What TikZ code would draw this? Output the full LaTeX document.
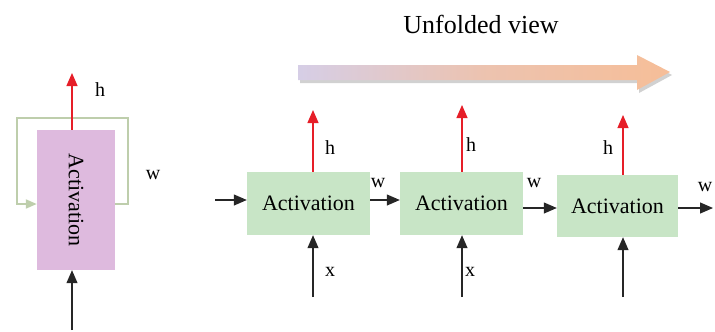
\documentclass[tikz,border=0pt]{standalone}
\usepackage{fontspec}
\setmainfont{Liberation Serif}
\usetikzlibrary{arrows.meta}
\definecolor{pinkfill}{RGB}{222,186,222}
\definecolor{greenfill}{RGB}{200,229,198}
\definecolor{loopcol}{RGB}{190,206,172}
\definecolor{lav}{RGB}{214,206,230}
\definecolor{peach}{RGB}{246,190,152}
\definecolor{arrred}{RGB}{230,30,40}
\tikzset{
  actbox/.style={fill=greenfill, draw=none, minimum width=123pt, minimum height=63pt, inner sep=0pt, font=\fontsize{22}{24}\selectfont},
  pinkbox/.style={fill=pinkfill, draw=none, minimum width=78pt, minimum height=140pt, inner sep=0pt},
  blk/.style={draw=black!85, line width=1.2pt, -{Triangle[length=13pt,width=11pt]}},
  redarr/.style={draw=arrred, line width=1.2pt, -{Triangle[length=13pt,width=11pt]}},
  loopline/.style={draw=loopcol, line width=2pt, -{Triangle[length=11pt,width=9pt]}},
  lab/.style={font=\fontsize{20}{24}\selectfont, inner sep=0pt},
}
\begin{document}
\begin{tikzpicture}[x=1pt,y=-1pt]
\useasboundingbox (0,0) rectangle (715,332);
% title
\node[font=\fontsize{26}{30}\selectfont, inner sep=0pt] (title) at (481,24) {Unfolded view};
% gradient arrow with shadow
\fill[black, opacity=0.18] (300,68) -- (639,68) -- (639,58) -- (672,75) -- (639,93) -- (639,83) -- (300,83) -- cycle;
\shade[left color=lav, right color=peach, middle color=peach!70!lav] (298,65) -- (637,65) -- (637,55) -- (670,72) -- (637,90) -- (637,80) -- (298,80) -- cycle;
% left folded view
\node[pinkbox] (L) at (76,200) {};
\node[rotate=-90, font=\fontsize{22}{24}\selectfont, inner sep=0pt] (Ltext) at (L.center) {Activation};
\coordinate (la) at (115,204);
\coordinate (lb) at (128,118);
\coordinate (lc) at (17,204);
\draw[loopline] (la) -| (lb) -| (lc) -- (L.west |- lc);
\coordinate (Lh) at (72,73);
\draw[redarr] (L.north -| Lh) -- (Lh);
\coordinate (Lx) at (72,330);
\draw[blk] (Lx) -- (L.south -| Lx);
\node[lab] (Lhl) at (100,90) {h};
\node[lab] (Lwl) at (153,175) {w};
% unfolded
\node[actbox] (B1) at (308.5,203.5) {Activation};
\node[actbox] (B2) at (461.5,203.5) {Activation};
\node[actbox, minimum width=121pt, minimum height=62pt] (B3) at (617.5,206) {Activation};
\coordinate (in1) at (215,200);
\draw[blk] (in1) -- (B1.west |- in1);
\coordinate (m12) at (370,200);
\draw[blk] (B1.east |- m12) -- (B2.west |- m12);
\coordinate (m23) at (523,208);
\draw[blk] (B2.east |- m23) -- (B3.west |- m23);
\coordinate (out3) at (713,208);
\draw[blk] (B3.east |- out3) -- (out3);
% h arrows
\coordinate (h1) at (313,110);
\coordinate (h2) at (462,105);
\coordinate (h3) at (623,115);
\draw[redarr] (B1.north -| h1) -- (h1);
\draw[redarr] (B2.north -| h2) -- (h2);
\draw[redarr] (B3.north -| h3) -- (h3);
% x arrows
\coordinate (x1) at (313,297);
\coordinate (x2) at (462,297);
\coordinate (x3) at (623,297);
\draw[blk] (x1) -- (B1.south -| x1);
\draw[blk] (x2) -- (B2.south -| x2);
\draw[blk] (x3) -- (B3.south -| x3);
% labels
\node[lab] (hl1) at (330,148) {h};
\node[lab] (hl2) at (471,145) {h};
\node[lab] (hl3) at (608,148) {h};
\node[lab] (wl1) at (378,183) {w};
\node[lab] (wl2) at (534,183) {w};
\node[lab] (wl3) at (705,187) {w};
\node[lab] (xl1) at (330,272) {x};
\node[lab] (xl2) at (470,272) {x};
\end{tikzpicture}
\end{document}
